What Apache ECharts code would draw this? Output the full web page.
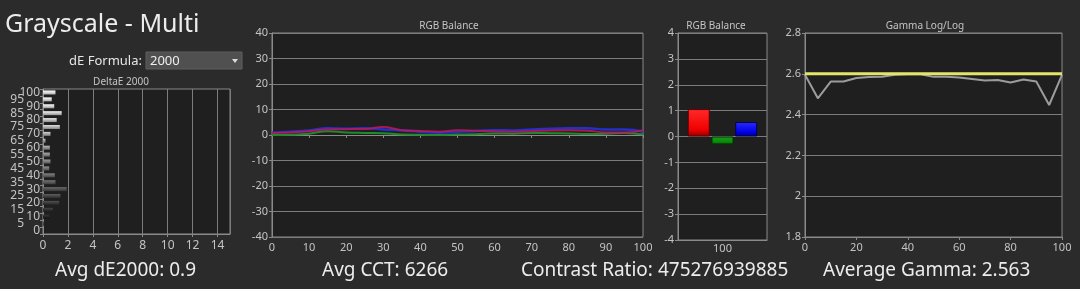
<!DOCTYPE html>
<html><head><meta charset="utf-8">
<script src="https://cdn.jsdelivr.net/npm/echarts@6/dist/echarts.min.js"></script>
<style>html,body{margin:0;padding:0;background:#2b2b2b;}#c{width:1080px;height:289px;}</style>
</head><body><div id="c"></div>
<script>
// ---- data ----
const steps = ['0','5','10','15','20','25','30','35','40','45','50','55','60','65','70','75','80','85','90','95','100'];
const deltaE = [0, 0.05, 0.5, 0.8, 1.3, 1.4, 1.9, 1.0, 0.95, 0.5, 0.6, 0.55, 0.55, 0.2, 0.6, 1.35, 1.1, 1.5, 0.9, 0.7, 1.0];
const rgbX = [0,5,10,15,20,25,30,35,40,45,50,55,60,65,70,75,80,85,90,95,100];
const rgbRed   = [0.8, 1.0, 1.5, 2.2, 2.3, 2.4, 3.1, 1.9, 1.6, 1.3, 1.9, 1.7, 1.4, 1.3, 1.5, 1.8, 1.9, 1.7, 1.0, 1.0, 1.9];
const rgbGreen = [0.0, 0.1, 0.5, 1.5, 1.0, 0.8, 0.7, 0.2, 0.1, 0.0, 0.2, 0.3, 0.6, 0.5, 0.8, 0.7, 0.6, 0.4, 0.5, 0.8, 0.2];
const rgbBlue  = [0.9, 1.3, 1.8, 2.6, 2.5, 2.6, 2.2, 1.8, 1.3, 0.9, 1.3, 1.6, 1.9, 1.8, 2.2, 2.5, 2.6, 2.6, 2.2, 2.2, 1.3];
const balanceCats = ['100'];
const balanceRed = [1.06];
const balanceGreen = [-0.31];
const balanceBlue = [0.56];
const gammaX = [0,5,10,15,20,25,30,35,40,45,50,55,60,65,70,75,80,85,90,95,100];
const gammaMeasured = [2.595, 2.48, 2.562, 2.562, 2.579, 2.584, 2.585, 2.595, 2.598, 2.598, 2.585, 2.585, 2.582, 2.575, 2.567, 2.57, 2.557, 2.572, 2.562, 2.447, 2.595];
const gammaTargetX = [0, 100];
const gammaTarget = [2.6, 2.6];
const texts = {
  title: 'Grayscale - Multi', formula: 'dE Formula:', formulaValue: '2000',
  deltaTitle: 'DeltaE 2000', rgbTitle: 'RGB Balance', gammaTitle: 'Gamma Log/Log',
  avgDE: 'Avg dE2000: 0.9', avgCCT: 'Avg CCT: 6266', contrast: 'Contrast Ratio: 475276939885', avgGamma: 'Average Gamma: 2.563'
};

// ---- styling ----
const FONT = "'Noto Sans', 'Open Sans', sans-serif";
const LBL = '#c4c4c4', GRIDC = '#7c7c7c', PLOTBG = '#1f1f1f', BORDER = '#8a8a8a';
const pairs = (xs, ys) => xs.map((x, i) => [x, ys[i]]);

function valAxis(gi, min, max, interval, extra) {
  return Object.assign({
    type: 'value', gridIndex: gi, min, max, interval,
    axisLine: {show: true, lineStyle: {color: BORDER}},
    axisTick: {show: true, length: 3, lineStyle: {color: BORDER}},
    axisLabel: {color: LBL, fontSize: 11, fontFamily: FONT, margin: 4},
    splitLine: {show: true, lineStyle: {color: GRIDC, width: 1}}
  }, extra || {});
}
const gridBase = {show: true, backgroundColor: PLOTBG, borderColor: BORDER, borderWidth: 1, containLabel: false};

const chart = echarts.init(document.getElementById('c'), null, {renderer: 'canvas'});
const option = {
  backgroundColor: '#2b2b2b',
  animation: false,
  grid: [
    Object.assign({left: 43, top: 89, width: 187, height: 145}, gridBase),
    Object.assign({left: 272, top: 33, width: 371, height: 204}, gridBase),
    Object.assign({left: 678, top: 33, width: 89, height: 207}, gridBase),
    Object.assign({left: 805, top: 33, width: 257, height: 204}, gridBase)
  ],
  xAxis: [
    valAxis(0, 0, 15, 2, {axisLabel: {color: LBL, fontSize: 12, fontFamily: FONT, margin: 6, showMaxLabel: false,
      formatter: v => (v % 2 === 0 ? String(v) : '')}}),
    valAxis(1, 0, 100, 10, {splitLine: {show: false}, axisLabel: {color: LBL, fontSize: 11, fontFamily: FONT, margin: 5}}),
    {type: 'category', gridIndex: 2, data: balanceCats, axisLine: {show: true, onZero: false, lineStyle: {color: BORDER}},
      axisTick: {show: false}, axisLabel: {color: LBL, fontSize: 11, fontFamily: FONT, margin: 3}},
    valAxis(3, 0, 100, 20, {splitLine: {show: false}, axisLabel: {color: LBL, fontSize: 11, fontFamily: FONT, margin: 5}})
  ],
  yAxis: [
    {type: 'category', gridIndex: 0, data: steps,
      axisLine: {show: true, lineStyle: {color: BORDER}},
      axisTick: {show: true, length: 3, interval: 0, lineStyle: {color: BORDER}},
      axisLabel: {interval: 0, color: LBL, fontSize: 12, fontFamily: FONT, margin: 3,
        formatter: v => (Number(v) % 10 === 0 ? `{a|${v}}` : `{b|${v}}`),
        rich: {a: {fontSize: 12, color: LBL, fontFamily: FONT}, b: {fontSize: 12, color: LBL, fontFamily: FONT, padding: [0, 16, 0, 0]}}}},
    valAxis(1, -40, 40, 10),
    valAxis(2, -4, 4, 1),
    valAxis(3, 1.8, 2.8, 0.2)
  ],
  series: [
    {type: 'bar', xAxisIndex: 0, yAxisIndex: 0, barWidth: 4, data: deltaE,
      itemStyle: {color: p => {
        const g = Math.round(Number(steps[p.dataIndex]) * 2.55);
        const hi = Math.min(255, g + 30), lo = Math.round(g * 0.7);
        return new echarts.graphic.LinearGradient(0, 0, 0, 1, [
          {offset: 0, color: `rgb(${hi},${hi},${hi})`},
          {offset: 1, color: `rgb(${lo},${lo},${lo})`}]);
      }}},
    {type: 'line', xAxisIndex: 1, yAxisIndex: 1, data: pairs(rgbX, rgbGreen), smooth: true, symbol: 'none',
      lineStyle: {color: '#1f8a2a', width: 2}},
    {type: 'line', xAxisIndex: 1, yAxisIndex: 1, data: pairs(rgbX, rgbBlue), smooth: true, symbol: 'none',
      lineStyle: {color: '#2430c8', width: 2.5}},
    {type: 'line', xAxisIndex: 1, yAxisIndex: 1, data: pairs(rgbX, rgbRed), smooth: true, symbol: 'none',
      lineStyle: {color: '#c0185a', width: 2, opacity: 0.85}},
    {type: 'bar', xAxisIndex: 2, yAxisIndex: 2, data: balanceRed, barWidth: 22, barGap: '8%',
      itemStyle: {color: new echarts.graphic.LinearGradient(0, 0, 0, 1, [
        {offset: 0, color: '#ff2a2a'}, {offset: 0.75, color: '#f00000'}, {offset: 1, color: '#8a0000'}]), borderColor: '#600000', borderWidth: 1}},
    {type: 'bar', xAxisIndex: 2, yAxisIndex: 2, data: balanceGreen, barWidth: 22, barGap: '8%',
      itemStyle: {color: new echarts.graphic.LinearGradient(0, 0, 0, 1, [
        {offset: 0, color: '#1aa01a'}, {offset: 0.7, color: '#0a8a0a'}, {offset: 1, color: '#044404'}]), borderColor: '#033003', borderWidth: 1}},
    {type: 'bar', xAxisIndex: 2, yAxisIndex: 2, data: balanceBlue, barWidth: 22, barGap: '8%',
      itemStyle: {color: new echarts.graphic.LinearGradient(0, 0, 0, 1, [
        {offset: 0, color: '#2a2aff'}, {offset: 0.7, color: '#0000e6'}, {offset: 1, color: '#00007a'}]), borderColor: '#000050', borderWidth: 1}},
    {type: 'line', xAxisIndex: 3, yAxisIndex: 3, data: pairs(gammaX, gammaMeasured), symbol: 'none',
      lineStyle: {color: '#9c9c9c', width: 2}},
    {type: 'line', xAxisIndex: 3, yAxisIndex: 3, data: pairs(gammaTargetX, gammaTarget), symbol: 'none',
      lineStyle: {color: '#e4e46c', width: 3}}
  ],
  graphic: [
    {type: 'text', x: 5, y: 25, style: {text: texts.title, fill: '#ececec', font: `25px ${FONT}`, textVerticalAlign: 'middle'}},
    {type: 'text', x: 142, y: 61, style: {text: texts.formula, fill: '#e6e6e6', font: `13px ${FONT}`, textAlign: 'right', textVerticalAlign: 'middle'}},
    {type: 'rect', shape: {x: 146, y: 52, width: 96, height: 17}, style: {fill: '#505050', stroke: '#5e5e5e'}},
    {type: 'text', x: 150, y: 61, style: {text: texts.formulaValue, fill: '#eeeeee', font: `13px ${FONT}`, textVerticalAlign: 'middle'}},
    {type: 'polygon', shape: {points: [[232, 59], [238, 59], [235, 63]]}, style: {fill: '#dddddd'}},
    {type: 'text', x: 121, y: 82, style: {text: texts.deltaTitle, fill: LBL, font: `10px ${FONT}`, textAlign: 'center', textVerticalAlign: 'middle'}},
    {type: 'text', x: 449, y: 26, style: {text: texts.rgbTitle, fill: LBL, font: `10px ${FONT}`, textAlign: 'center', textVerticalAlign: 'middle'}},
    {type: 'text', x: 716, y: 26, style: {text: texts.rgbTitle, fill: LBL, font: `10px ${FONT}`, textAlign: 'center', textVerticalAlign: 'middle'}},
    {type: 'text', x: 925, y: 26, style: {text: texts.gammaTitle, fill: LBL, font: `10px ${FONT}`, textAlign: 'center', textVerticalAlign: 'middle'}},
    {type: 'text', x: 55, y: 271, style: {text: texts.avgDE, fill: '#ececec', font: `19px ${FONT}`, textVerticalAlign: 'middle'}},
    {type: 'text', x: 322, y: 271, style: {text: texts.avgCCT, fill: '#ececec', font: `19px ${FONT}`, textVerticalAlign: 'middle'}},
    {type: 'text', x: 521, y: 271, style: {text: texts.contrast, fill: '#ececec', font: `19px ${FONT}`, textVerticalAlign: 'middle'}},
    {type: 'text', x: 823, y: 271, style: {text: texts.avgGamma, fill: '#ececec', font: `19px ${FONT}`, textVerticalAlign: 'middle'}}
  ]
};
chart.setOption(option);
</script>
</body></html>
